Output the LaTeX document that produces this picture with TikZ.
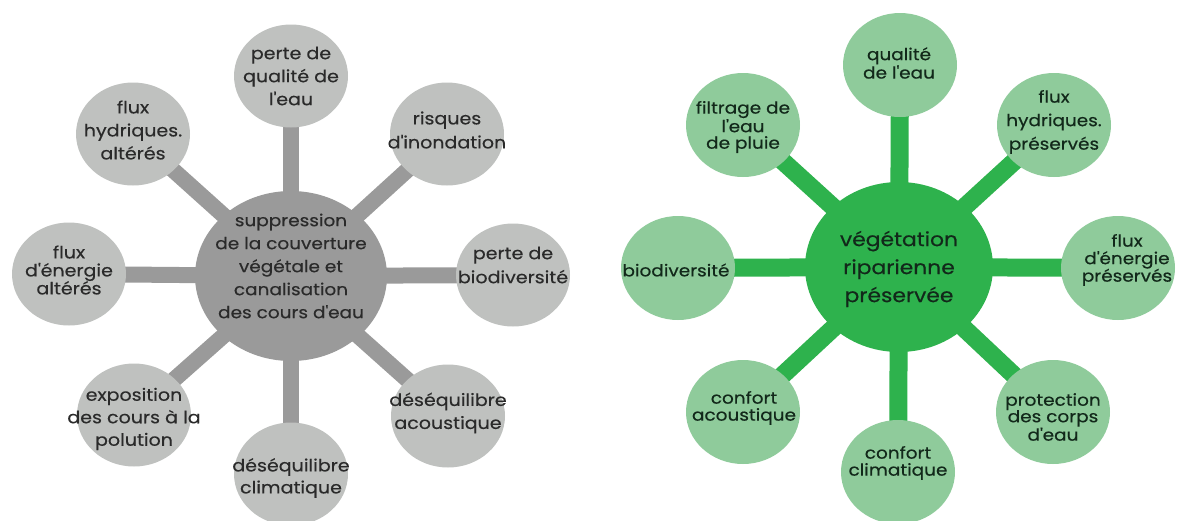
\documentclass[tikz,border=0pt]{standalone}
\usepackage{fontspec}
\setmainfont{Poppins}[FakeBold=0.35,FakeStretch=1.12]
\usetikzlibrary{shapes.geometric,backgrounds}
\newcommand\ap{\textquotesingle}
\definecolor{graysat}{HTML}{BFC1BF}
\definecolor{graymain}{HTML}{9A9A9A}
\definecolor{grayspoke}{HTML}{9A9A9A}
\definecolor{greensat}{HTML}{8FCB9B}
\definecolor{greenmain}{HTML}{2EB24D}
\definecolor{txtgray}{HTML}{2A2A2A}
\definecolor{txtgreen}{HTML}{12281A}
\tikzset{
  gsat/.style={ellipse,fill=graysat,minimum width=114pt,minimum height=103pt,inner sep=0pt},
  gmain/.style={ellipse,fill=graymain,minimum width=192pt,minimum height=170pt,inner sep=0pt},
  vsat/.style={ellipse,fill=greensat,minimum width=114pt,minimum height=104pt,inner sep=0pt},
  vmain/.style={ellipse,fill=greenmain,minimum width=188pt,minimum height=170pt,inner sep=0pt},
  gtxt/.style={align=center,text=txtgray,inner sep=0pt,font=\fontsize{17}{22}\selectfont},
  vtxt/.style={align=center,text=txtgreen,inner sep=0pt,font=\fontsize{16.5}{17}\selectfont},
  gspoke/.style={draw=grayspoke,line width=16pt},
  vspoke/.style={draw=greenmain,line width=18pt},
}
\begin{document}
\begin{tikzpicture}[x=1pt,y=-1pt]
\useasboundingbox (0,0) rectangle (1179,520);
\begin{scope}
\clip (0,0) rectangle (1179,520);
% ---------- left diagram ----------
\node[gmain] (L) at (291,276) {};
\node[gsat] (L1) at (291,76) {};
\node[gsat] (L2) at (447,134) {};
\node[gsat] (L3) at (513,275) {};
\node[gsat] (L4) at (448,416) {};
\node[gsat] (L5) at (291,474) {};
\node[gsat] (L6) at (134,415) {};
\node[gsat] (L7) at (69,274) {};
\node[gsat] (L8) at (133,134) {};
\begin{pgfonlayer}{background}
\foreach \s in {L1,L2,L3,L4,L5,L6,L7,L8} \draw[gspoke] (L.center) -- (\s.center);
\end{pgfonlayer}
\node[gtxt,font=\fontsize{16.5}{23}\selectfont] (tL) at (291,266) {suppression\\de la couverture\\végétale et\\canalisation\\des cours d\ap eau};
\node[gtxt,font=\fontsize{17}{23}\selectfont] (t1) at (291,76) {perte de\\qualité de\\l\ap eau};
\node[gtxt,font=\fontsize{17}{24}\selectfont] (t2) at (447,130) {risques\\d\ap inondation};
\node[gtxt,font=\fontsize{17}{24}\selectfont] (t3) at (513,265) {perte de\\biodiversité};
\node[gtxt,font=\fontsize{17}{23}\selectfont] (t4) at (448,413) {déséquilibre\\acoustique};
\node[gtxt,font=\fontsize{17}{22}\selectfont] (t5) at (291,478) {déséquilibre\\climatique};
\node[gtxt,font=\fontsize{17}{22.5}\selectfont] (t6) at (134,419) {exposition\\des cours à la\\polution};
\node[gtxt,font=\fontsize{17}{18}\selectfont] (t7) at (69,270) {flux\\d\ap énergie\\altérés};
\node[gtxt,font=\fontsize{17}{23}\selectfont] (t8) at (133,130) {flux\\hydriques.\\altérés};
% ---------- right diagram ----------
\node[vmain] (R) at (899,267) {};
\node[vsat] (R1) at (900,65) {};
\node[vsat] (R2) at (1054,125) {};
\node[vsat] (R3) at (1118,268) {};
\node[vsat] (R4) at (1053,412) {};
\node[vsat] (R5) at (898,472) {};
\node[vsat] (R6) at (743,412) {};
\node[vsat] (R7) at (678,268) {};
\node[vsat] (R8) at (743,125) {};
\begin{pgfonlayer}{background}
\foreach \s in {R1,R2,R3,R4,R5,R6,R7,R8} \draw[vspoke] (R.center) -- (\s.center);
\end{pgfonlayer}
\node[vtxt,font=\fontsize{19.5}{28}\selectfont] (tR) at (899,269) {végétation\\riparienne\\préservée};
\node[vtxt,font=\fontsize{16.5}{17}\selectfont] (u1) at (899,63) {qualité\\de l\ap eau};
\node[vtxt,font=\fontsize{16.5}{23.5}\selectfont] (u2) at (1054,122) {flux\\hydriques.\\préservés};
\node[vtxt,font=\fontsize{16.5}{17.5}\selectfont] (u3) at (1127,260) {flux\\d\ap énergie\\préservés};
\node[vtxt,font=\fontsize{16.5}{16.5}\selectfont] (u4) at (1053,417) {protection\\des corps\\d\ap eau};
\node[vtxt] (u5) at (898,463) {confort\\climatique};
\node[vtxt] (u6) at (744,408) {confort\\acoustique};
\node[vtxt] (u7) at (676,270) {biodiversité};
\node[vtxt,font=\fontsize{16.5}{16.5}\selectfont] (u8) at (743,127) {filtrage de\\l\ap eau\\de pluie};
\end{scope}
\end{tikzpicture}
\end{document}
